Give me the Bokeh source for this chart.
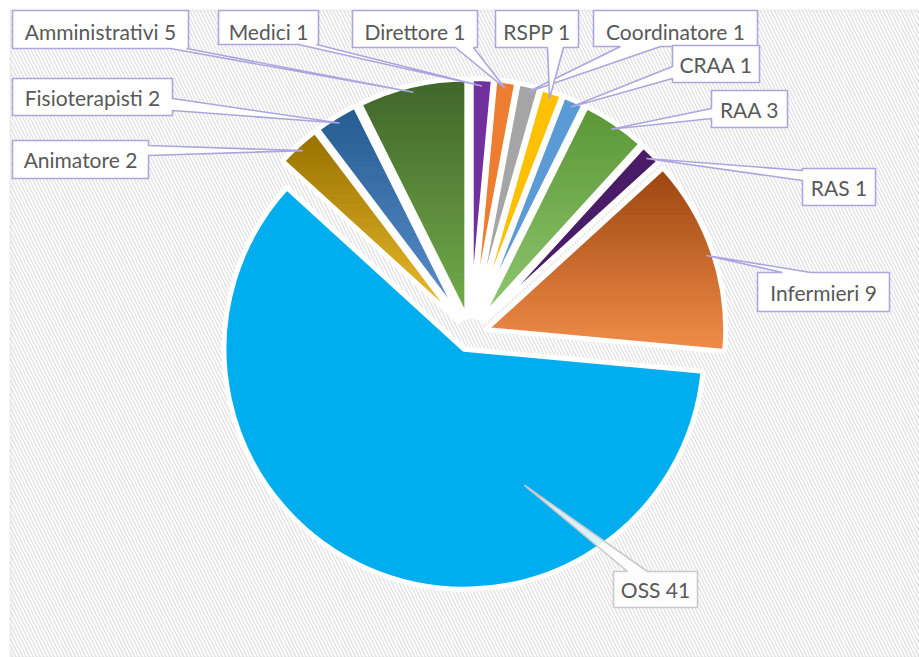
import numpy as np
from bokeh.plotting import figure
from bokeh.models import Range1d, ColumnDataSource, BoxAnnotation
from bokeh.core.properties import value
from bokeh.embed import file_html
from bokeh.resources import INLINE

# ---- data (clockwise from 12 o'clock) ----
names = ["Medici", "Direttore", "Coordinatore", "RSPP", "CRAA", "RAA", "RAS",
         "Infermieri", "OSS", "Animatore", "Fisioterapisti", "Amministrativi"]
counts = [1, 1, 1, 1, 1, 3, 1, 9, 41, 2, 2, 5]
colors = ["#7030A0", "#ED7D31", "#A5A5A5", "#FFC000", "#5B9BD5", "#73AD4E", "#4A1C68",
          "#C8642A", "#00AEEF", "#C49A1E", "#3A6FA6", "#557F36"]
# vertical gradient (top colour, bottom colour) for shaded slices
gradients = {
    "RAA": ("#5A9636", "#92C872"),
    "Infermieri": ("#9C4510", "#F28E4A"),
    "Animatore": ("#967000", "#F2C12E"),
    "Fisioterapisti": ("#245C90", "#5E92CF"),
    "Amministrativi": ("#41652A", "#74AE4C"),
}

# ---- layout (pixel coords of the page image) ----
W, H = 919, 657
def Y(py):
    return H - py

CX, CY = 470, 334      # pie centre (px)
R = 240                # radius (px)
EXPL = 16              # explosion offset (px)
FRAME_L, FRAME_T = 10, 10

# label boxes: (x0, y0, x1, y1), pointer edge, pointer base pair, tip frac, tip radius frac
label_layout = {
    "Medici":         ((218, 10, 318, 44), "bottom", (298, 316), 0.5, 0.97),
    "Direttore":      ((352, 10, 477, 47), "bottom", (455, 473), 0.5, 0.97),
    "Coordinatore":   ((593, 10, 757, 46), "bottom", (620, 660), 0.5, 0.97),
    "RSPP":           ((495, 10, 578, 47), "bottom", (547, 563), 0.5, 0.97),
    "CRAA":           ((672, 45, 759, 82), "left", (66, 78), 0.5, 0.97),
    "RAA":            ((711, 90, 787, 127), "left", (108, 118), 0.5, 0.97),
    "RAS":            ((802, 168, 875, 205), "left", (170, 180), 0.5, 0.97),
    "Infermieri":     ((757, 272, 889, 311), "top", (782, 810), 0.5, 0.97),
    "OSS":            ((613, 571, 697, 607), "top", (627, 647), 0.28, 0.62),
    "Animatore":      ((12, 140, 148, 178), "right", (145, 155), 0.5, 0.97),
    "Fisioterapisti": ((12, 78, 172, 115), "right", (98, 110), 0.5, 0.97),
    "Amministrativi": ((12, 10, 188, 48), "bottom", (170, 186), 0.5, 0.97),
}
text_y_top = 31

# ---- geometry from data ----
vals = np.array(counts, dtype=float)
frac = vals / vals.sum()
th_end = np.cumsum(frac) * 360.0
th_start = th_end - frac * 360.0
th_mid = (th_start + th_end) / 2

cx_d = CX + EXPL * np.sin(np.radians(th_mid))
cy_d = Y(CY) + EXPL * np.cos(np.radians(th_mid))
start_ang = np.radians(90 - th_end)
end_ang = np.radians(90 - th_start)

src = ColumnDataSource(dict(x=cx_d, y=cy_d, start=start_ang, end=end_ang,
                            color=colors, name=names, count=counts))

p = figure(width=W, height=H, x_range=Range1d(0, W), y_range=Range1d(0, H),
           output_backend="svg", toolbar_location=None, min_border=0)
p.axis.visible = False
p.grid.visible = False
p.outline_line_color = None
p.background_fill_color = "white"
p.border_fill_color = "white"

bg = BoxAnnotation(left=FRAME_L, top=Y(FRAME_T), fill_color="white", fill_alpha=1.0,
                   line_color="#d2d2d2", line_width=2,
                   hatch_pattern="\\", hatch_color="#e4e4e4", hatch_scale=7,
                   hatch_weight=1.5, level="underlay")
p.add_layout(bg)

# solid wedges
p.wedge(x="x", y="y", radius=R, start_angle="start", end_angle="end",
        fill_color="color", line_color=None, source=src)

# gradient shading drawn as horizontal bands inside the wedge
def hexrgb(h):
    h = h.lstrip("#")
    return np.array([int(h[k:k + 2], 16) for k in (0, 2, 4)], dtype=float)

def clip(poly, ylo, yhi):
    def clip_half(pts, keep, inter):
        out = []
        n = len(pts)
        for k in range(n):
            a, b = pts[k], pts[(k + 1) % n]
            ka, kb = keep(a), keep(b)
            if ka:
                out.append(a)
            if ka != kb:
                out.append(inter(a, b))
        return out
    def ix(yc):
        return lambda a, b: (a[0] + (yc - a[1]) * (b[0] - a[0]) / (b[1] - a[1]), yc)
    pts = clip_half(poly, lambda q: q[1] >= ylo, ix(ylo))
    if not pts:
        return pts
    return clip_half(pts, lambda q: q[1] <= yhi, ix(yhi))

bxs, bys, bcols = [], [], []
NB = 40
for i, nm in enumerate(names):
    if nm not in gradients:
        continue
    a = np.linspace(start_ang[i], end_ang[i], 60)
    poly = [(cx_d[i], cy_d[i])] + [(cx_d[i] + R * np.cos(t), cy_d[i] + R * np.sin(t)) for t in a]
    ys_ = [q[1] for q in poly]
    ymin, ymax = min(ys_), max(ys_)
    ctop, cbot = hexrgb(gradients[nm][0]), hexrgb(gradients[nm][1])
    edges = np.linspace(ymin, ymax, NB + 1)
    for k in range(NB):
        seg = clip(poly, edges[k] - 0.3, edges[k + 1] + 0.3)
        if len(seg) < 3:
            continue
        tpos = 1 - (k + 0.5) / NB  # 0 at top, 1 at bottom
        c = ctop * (1 - tpos) + cbot * tpos
        bxs.append([q[0] for q in seg])
        bys.append([q[1] for q in seg])
        bcols.append("#%02x%02x%02x" % tuple(int(round(v)) for v in c))
p.patches(xs="xs", ys="ys", fill_color="c", line_color="c", line_width=0.6,
          source=ColumnDataSource(dict(xs=bxs, ys=bys, c=bcols)))

# white separators
p.wedge(x="x", y="y", radius=R, start_angle="start", end_angle="end",
        fill_alpha=0, line_color="white", line_width=5, source=src)

# ---- callouts ----
pxs, pys, lcols, falph = [], [], [], []
tx, ty, tt = [], [], []
for i, nm in enumerate(names):
    (bx0, by0, bx1, by1), edge, (b1, b2), tf, tr = label_layout[nm]
    th = th_start[i] + tf * (th_end[i] - th_start[i])
    tip = (cx_d[i] + tr * R * np.sin(np.radians(th)),
           cy_d[i] + tr * R * np.cos(np.radians(th)))
    pts = [(bx0, Y(by0))]
    if edge == "top":
        pts += [(b1, Y(by0)), tip, (b2, Y(by0))]
    pts += [(bx1, Y(by0))]
    if edge == "right":
        pts += [(bx1, Y(b1)), tip, (bx1, Y(b2))]
    pts += [(bx1, Y(by1))]
    if edge == "bottom":
        pts += [(b2, Y(by1)), tip, (b1, Y(by1))]
    pts += [(bx0, Y(by1))]
    if edge == "left":
        pts += [(bx0, Y(b2)), tip, (bx0, Y(b1))]
    pxs.append([q[0] for q in pts])
    pys.append([q[1] for q in pts])
    if nm == "OSS":
        lcols.append("#cacaca"); falph.append(0.85)
    else:
        lcols.append("#aba7de"); falph.append(1.0)
    tx.append((bx0 + bx1) / 2)
    ty.append(Y(text_y_top) if by0 <= 10 else Y((by0 + by1) / 2))
    tt.append(f"{nm} {counts[i]}")

csrc = ColumnDataSource(dict(xs=pxs, ys=pys, lc=lcols, fa=falph))
p.patches(xs="xs", ys="ys", fill_color="white", fill_alpha="fa", line_color="lc",
          line_width=1.6, source=csrc)

tsrc = ColumnDataSource(dict(x=tx, y=ty, t=tt))
p.text(x="x", y="y", text="t", text_align="center", text_baseline="middle",
       text_font=value("Lato"), text_font_size="21px", text_color="#595959",
       source=tsrc)

open("out.html", "w").write(file_html(p, INLINE))
